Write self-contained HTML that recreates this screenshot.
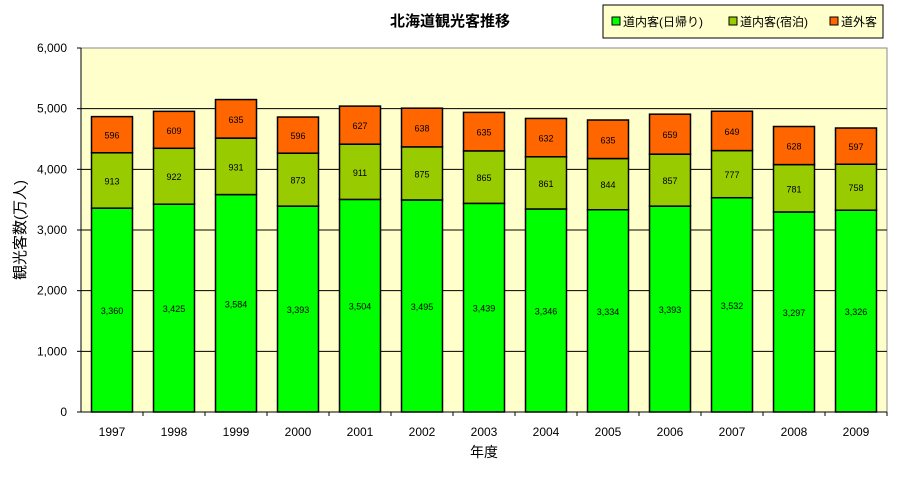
<!DOCTYPE html>
<html><head><meta charset="utf-8"><style>
body{margin:0;background:#fff;}
svg text{font-family:"Liberation Sans","Noto Sans CJK JP",sans-serif;}
</style></head><body>
<svg id="chart" width="899" height="472" xmlns="http://www.w3.org/2000/svg">
<text x="450" y="26" text-anchor="middle" font-size="15" font-weight="bold">北海道観光客推移</text>
<rect x="81" y="48" width="806" height="364" fill="#ffffcc" stroke="#888" stroke-width="1"/>
<g id="grid"></g><g id="bars"></g><g id="axes"></g>
<text x="484" y="457" text-anchor="middle" font-size="14">年度</text>
<text transform="translate(25,230) rotate(-90)" text-anchor="middle" font-size="15">観光客数(万人)</text>
<g>
<rect x="603" y="5" width="280" height="33" fill="#ffffcc" stroke="#000"/>
<rect x="612" y="17" width="8" height="8" fill="#00ff00" stroke="#000"/>
<text x="623" y="26" font-size="12">道内客(日帰り)</text>
<rect x="729" y="17" width="8" height="8" fill="#99cc00" stroke="#000"/>
<text x="740" y="26" font-size="12">道内客(宿泊)</text>
<rect x="830" y="17" width="8" height="8" fill="#ff6600" stroke="#000"/>
<text x="841" y="26" font-size="12">道外客</text>
</g>
</svg>
<script>
const years=["1997","1998","1999","2000","2001","2002","2003","2004","2005","2006","2007","2008","2009"];
const dayTrip=[3360,3425,3584,3393,3504,3495,3439,3346,3334,3393,3532,3297,3326];
const overnight=[913,922,931,873,911,875,865,861,844,857,777,781,758];
const outside=[596,609,635,596,627,638,635,632,635,659,649,628,597];
const yTicks=[0,1000,2000,3000,4000,5000,6000];
const NS="http://www.w3.org/2000/svg";
const L=81,R=887,T=48,B=412,YMAX=6000;
const cw=(R-L)/years.length, bw=41;
function y(v){return B-(v/YMAX)*(B-T);}
function x(i){return L+cw*(i+0.5);}
function mk(tag,attrs,parent,txt){const e=document.createElementNS(NS,tag);for(const k in attrs)e.setAttribute(k,attrs[k]);if(txt!==undefined)e.textContent=txt;parent.appendChild(e);return e;}
const grid=document.getElementById('grid'),bars=document.getElementById('bars'),axes=document.getElementById('axes');
yTicks.forEach(t=>{
  if(t>0&&t<YMAX){const g=mk('line',{x1:L,x2:R,y1:y(t),y2:y(t),stroke:'#000','stroke-width':1},grid);
  
  }
  const tk=mk('line',{x1:L-4,x2:L,y1:y(t),y2:y(t),stroke:'#000'},axes);
  
  
  const lb=mk('text',{x:L-14,y:y(t)+4,'text-anchor':'end','font-size':12},axes,t.toLocaleString('en-US'));
  
  
});
mk('line',{x1:L,x2:L,y1:T,y2:B,stroke:'#000'},axes);
mk('line',{x1:L,x2:R,y1:B,y2:B,stroke:'#000'},axes);
const series=[[dayTrip,'#00ff00','day'],[overnight,'#99cc00','stay'],[outside,'#ff6600','out']];
years.forEach((yr,i)=>{
  let base=0;const cx=x(i);
  series.forEach(([arr,col,nm])=>{
    const v=arr[i],y0=y(base),y1=y(base+v);
    const r=mk('rect',{x:cx-bw/2,y:y1,width:bw,height:y0-y1,fill:col,stroke:'#000','stroke-width':1.5},bars);
    
    
    const t=mk('text',{x:cx,y:(y0+y1)/2+4,'text-anchor':'middle','font-size':9},bars,v.toLocaleString('en-US'));
    
    
    base+=v;
  });
  const xl=mk('text',{x:cx,y:B+24,'text-anchor':'middle','font-size':12},axes,yr);
  
  
  const xt=mk('line',{x1:L+cw*(i+1),x2:L+cw*(i+1),y1:B,y2:B+4,stroke:'#000'},axes);
  
  
});
</script>
</body></html>
